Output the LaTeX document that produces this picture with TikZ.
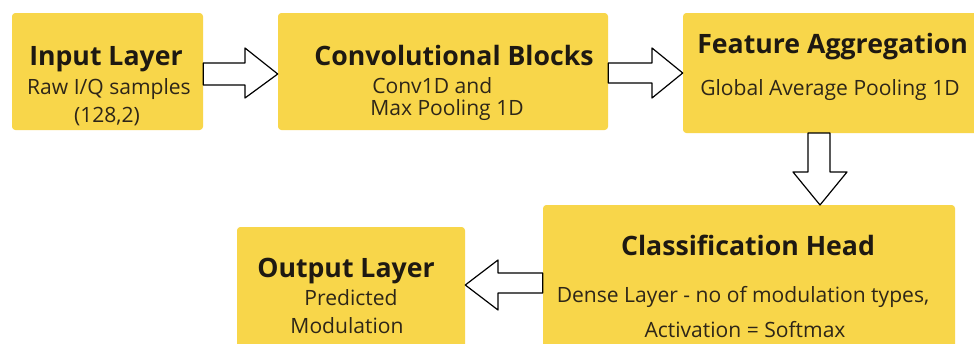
\documentclass[tikz,border=0pt]{standalone}
\usepackage{fontspec}
\setmainfont{Open Sans}
\definecolor{boxyellow}{HTML}{F8D64A}
\definecolor{titlecol}{HTML}{1E1912}
\definecolor{subcol}{HTML}{2E2618}
\tikzset{
  box/.style={fill=boxyellow, draw=none, rounded corners=2.5pt, inner sep=0pt},
  ttl/.style={text=titlecol, font=\fontsize{20}{24}\selectfont\bfseries, inner sep=0pt, anchor=base},
  sub/.style={text=subcol, font=\fontsize{15.8}{21}\selectfont, inner sep=0pt, anchor=base},
  barrow/.style={draw=black, fill=white, line width=0.9pt, line join=round},
}
\begin{document}
\begin{tikzpicture}[x=0.75pt,y=-0.75pt]
\useasboundingbox (0,0) rectangle (974,343);
\clip (0,0) rectangle (974,343);
\fill[white] (0,0) rectangle (974,343);
% boxes
\node[box, minimum width=143.25pt, minimum height=87.75pt] (in) at (107.5,71.5) {};
\node[box, minimum width=247.5pt, minimum height=87.75pt] (conv) at (443,71.5) {};
\node[box, minimum width=226.5pt, minimum height=90pt] (feat) at (834,73) {};
\node[box, minimum width=309pt, minimum height=112.5pt] (cls) at (749,280) {};
\node[box, minimum width=171pt, minimum height=96pt] (out) at (351,291) {};
% texts
\node[ttl] (inT) at (106,65) {Input Layer};
\node[sub] (inS1) at (109,94) {Raw I/Q samples};
\node[sub] (inS2) at (107,122) {(128,2)};
\node[ttl] (convT) at (454,65) {Convolutional Blocks};
\node[sub, anchor=base west] (convS1) at (372,93) {Conv1D and};
\node[sub, anchor=base west] (convS2) at (370,115) {Max Pooling 1D};
\node[ttl, anchor=base west] (featT) at (697,53) {Feature Aggregation};
\node[sub, anchor=base west] (featS) at (700,95) {Global Average Pooling 1D};
\node[ttl] (clsT) at (748,255) {Classification Head};
\node[sub] (clsS1) at (743,302) {Dense Layer - no of modulation types,};
\node[sub] (clsS2) at (745,337) {Activation = Softmax};
\node[ttl] (outT) at (346,277) {Output Layer};
\node[sub] (outS1) at (351,305) {Predicted};
\node[sub] (outS2) at (347,333) {Modulation};
% block arrows
\draw[barrow] (in.east |- 0,63) -- (245,63) -- (245,48) -- (conv.west |- 0,74) -- (245,98) -- (245,85) -- (in.east |- 0,85) -- cycle;
\draw[barrow] (conv.east |- 0,63) -- (652,63) -- (652,48) -- (feat.west |- 0,73) -- (652,98) -- (652,83) -- (conv.east |- 0,83) -- cycle;
\draw[barrow] (808,133) -- (808,172) -- (793,172) -- (820,205) -- (847,172) -- (830,172) -- (830,133) -- cycle;
\draw[barrow] (cls.west |- 0,273) -- (498,273) -- (498,260) -- (out.east |- 0,285) -- (498,310) -- (498,293) -- (cls.west |- 0,293) -- cycle;
\end{tikzpicture}
\end{document}
